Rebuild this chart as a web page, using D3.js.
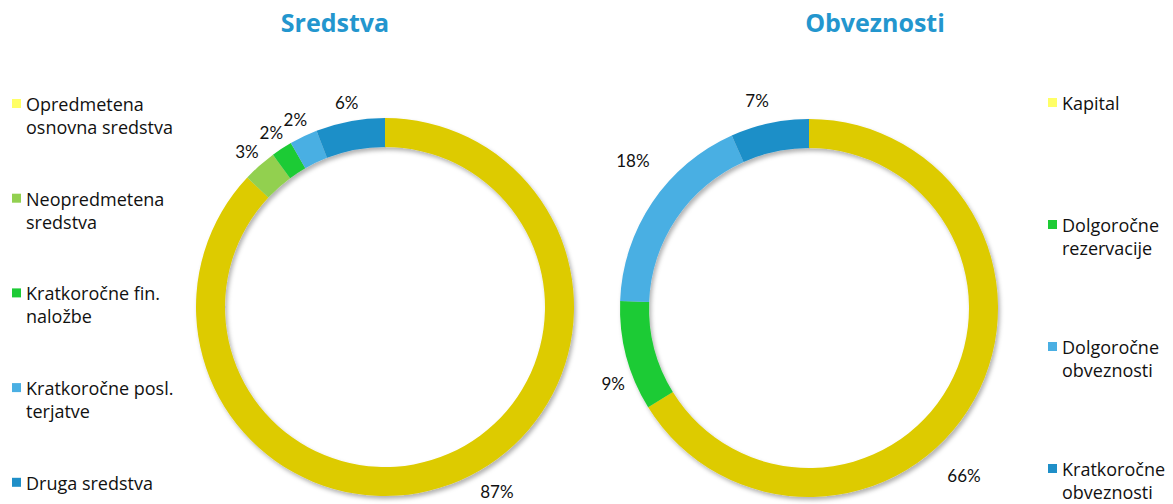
<!DOCTYPE html>
<html><head><meta charset="utf-8">
<script src="https://cdn.jsdelivr.net/npm/d3@7"></script>
<style>
html,body{margin:0;padding:0;background:#fff;}
svg{display:block;}
</style></head>
<body><svg id="c" width="1173" height="504"></svg>
<script>
// ---- data ----
const assetCategories = ["Opredmetena\nosnovna sredstva", "Neopredmetena\nsredstva", "Kratkoročne fin.\nnaložbe", "Kratkoročne posl.\nterjatve", "Druga sredstva"];
const assetValues = [87.0, 2.9, 1.8, 2.4, 5.9];
const assetLabels = ["87%", "3%", "2%", "2%", "6%"];

const liabCategories = ["Kapital", "Dolgoročne\nrezervacije", "Dolgoročne\nobveznosti", "Kratkoročne\nobveznosti"];
const liabValues = [66.2, 9.4, 17.7, 6.7];
const liabLabels = ["66%", "9%", "18%", "7%"];

const titles = ["Sredstva", "Obveznosti"];

// ---- style / layout ----
const ringColorsA = ["#DDCB00", "#92D050", "#1DCB35", "#4AAFE3", "#1F8FC8"];
const swatchColorsA = ["#FFFF66", "#92D050", "#1DCB35", "#4AAFE3", "#1F8FC8"];
const ringColorsB = ["#DDCB00", "#1DCB35", "#4AAFE3", "#1F8FC8"];
const swatchColorsB = ["#FFFF66", "#1DCB35", "#4AAFE3", "#1F8FC8"];
// label placement adjustments: [angle shift in degrees, radius]
const labelAdjA = [[-7.8, 216], [0, 208], [0, 208], [0, 208], [0, 208]];
const labelAdjB = [[18, 228], [-6.4, 210], [6, 230], [-2, 214]];

const svg = d3.select("#c");
const defs = svg.append("defs");
const f = defs.append("filter").attr("id", "sh").attr("x", "-10%").attr("y", "-10%").attr("width", "120%").attr("height", "120%");
f.append("feDropShadow").attr("dx", 2).attr("dy", 3).attr("stdDeviation", 2)
  .attr("flood-color", "#000").attr("flood-opacity", 0.3);

function donut(cx, cy, values, labels, colors, adj) {
  const pie = d3.pie().sort(null).value(d => d)(values);
  const arc = d3.arc().innerRadius(160).outerRadius(189);
  const g = svg.append("g").attr("transform", `translate(${cx},${cy})`);
  g.append("g").attr("filter", "url(#sh)")
    .selectAll("path").data(pie).join("path")
    .attr("d", arc).attr("fill", (d, i) => colors[i]);
  g.selectAll("text").data(pie).join("text")
    .attr("x", (d, i) => { const a = (d.startAngle + d.endAngle) / 2 + adj[i][0] * Math.PI / 180; return adj[i][1] * Math.sin(a); })
    .attr("y", (d, i) => { const a = (d.startAngle + d.endAngle) / 2 + adj[i][0] * Math.PI / 180; return -adj[i][1] * Math.cos(a); })
    .attr("text-anchor", "middle").attr("dominant-baseline", "central")
    .attr("font-family", "Lato, 'Open Sans', sans-serif").attr("font-size", 17).attr("fill", "#111")
    .text((d, i) => labels[i]);
}

function legend(x, y0, step, cats, colors) {
  cats.forEach((c, i) => {
    const y = y0 + i * step;
    svg.append("rect").attr("x", x).attr("y", y - 12).attr("width", 9).attr("height", 9).attr("fill", colors[i]);
    const t = svg.append("text").attr("x", x + 14).attr("y", y)
      .attr("font-family", "'Open Sans', sans-serif").attr("font-size", 18).attr("fill", "#111");
    c.split("\n").forEach((line, k) => {
      t.append("tspan").attr("x", x + 14).attr("y", y + k * 23).text(line);
    });
  });
}

svg.append("text").attr("x", 335).attr("y", 32).attr("text-anchor", "middle")
  .attr("font-family", "'Open Sans', sans-serif").attr("font-weight", "bold").attr("font-size", 25)
  .attr("fill", "#2396CE").text(titles[0]);
svg.append("text").attr("x", 875).attr("y", 32).attr("text-anchor", "middle")
  .attr("font-family", "'Open Sans', sans-serif").attr("font-weight", "bold").attr("font-size", 25)
  .attr("fill", "#2396CE").text(titles[1]);

donut(385, 307, assetValues, assetLabels, ringColorsA, labelAdjA);
donut(809, 308, liabValues, liabLabels, ringColorsB, labelAdjB);

legend(12, 111, 94.7, assetCategories, swatchColorsA);
legend(1048, 110, 122, liabCategories, swatchColorsB);
</script>
</body></html>
